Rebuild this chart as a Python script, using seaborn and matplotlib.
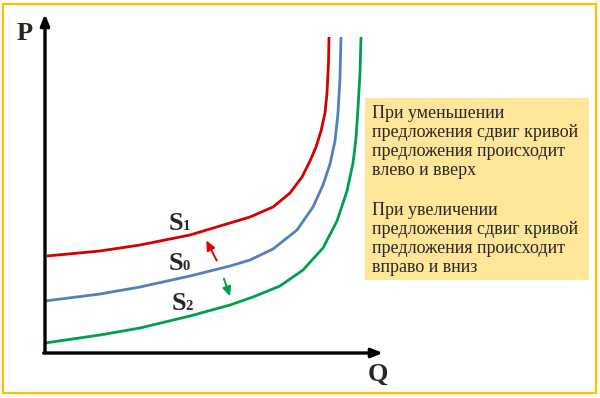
import matplotlib
matplotlib.use("Agg")
import matplotlib.pyplot as plt
import seaborn as sns
import pandas as pd
from matplotlib.patches import Rectangle, FancyArrowPatch

# Curves (Q, P)
s1_q = [2, 55, 95, 145, 185, 205, 228, 245, 257, 265, 271, 276, 280, 282, 283.5, 284]
s1_p = [97, 102, 108, 118, 130, 136, 146, 160, 176, 192, 206, 222, 240, 260, 290, 316]
s0_q = [0, 55, 95, 145, 185, 205, 228, 252, 268, 278, 285, 290, 293, 295, 296]
s0_p = [52, 59, 66, 77, 87, 93, 104, 123, 146, 168, 189, 212, 240, 275, 316]
s2_q = [0, 55, 95, 145, 185, 208, 235, 258, 278, 292, 302, 308, 311, 313, 315, 316]
s2_p = [10, 18, 25, 37, 48, 56, 67, 83, 105, 132, 162, 190, 215, 245, 280, 316]

text_up = "При уменьшении\nпредложения сдвиг кривой\nпредложения происходит\nвлево и вверх"
text_down = "При увеличении\nпредложения сдвиг кривой\nпредложения происходит\nвправо и вниз"

sns.set_theme(style="white")
plt.rcParams['font.family'] = ['Liberation Serif', 'DejaVu Serif']

W, H = 600, 398
fig = plt.figure(figsize=(6.0, 3.98), dpi=100)
fig.patch.set_facecolor("white")

# axes: origin at pixel (45, 353), extends to (383, 14)
x0, y0, x1, y1 = 45, 353, 383, 14
ax = fig.add_axes([x0 / W, (H - y0) / H, (x1 - x0) / W, (y0 - y1) / H])
ax.set_xlim(0, x1 - x0)
ax.set_ylim(0, y0 - y1)
ax.axis("off")

df = pd.concat([
    pd.DataFrame({"Q": s1_q, "P": s1_p, "curve": "S1"}),
    pd.DataFrame({"Q": s0_q, "P": s0_p, "curve": "S0"}),
    pd.DataFrame({"Q": s2_q, "P": s2_p, "curve": "S2"}),
])
palette = {"S1": "#D40000", "S0": "#4F81BD", "S2": "#00A04A"}
sns.lineplot(data=df, x="Q", y="P", hue="curve", palette=palette, sort=False,
             estimator=None, linewidth=2.0, legend=False, ax=ax)
for ln in ax.get_lines():
    ln.set_solid_joinstyle("round")
    ln.set_solid_capstyle("butt")

# axis arrows
arrow_kw = dict(arrowstyle="-|>,head_length=0.55,head_width=0.22", color="black", lw=2.4,
                shrinkA=0, shrinkB=0)
ax.annotate("", xy=(0, 1), xytext=(0, 0), xycoords="axes fraction",
            arrowprops=arrow_kw, annotation_clip=False)
ax.annotate("", xy=(1, 0), xytext=(-0.004, 0), xycoords="axes fraction",
            arrowprops=arrow_kw, annotation_clip=False)

def px(x, y):
    return (x / W, 1 - y / H)

fig.text(*px(25, 40), "P", fontsize=19, fontweight="bold", ha="center", va="baseline")
fig.text(*px(378, 381), "Q", fontsize=19, fontweight="bold", ha="center", va="baseline")

# curve labels
for xs, yb, sub in [(169, 230, "1"), (169, 270, "0"), (172, 310, "2")]:
    fig.text(*px(xs, yb), "S", fontsize=19, fontweight="bold", ha="left", va="baseline")
    fig.text(*px(xs + 13.5, yb), sub, fontsize=10.5, fontweight="bold", ha="left", va="baseline")

# shift arrows
fig.patches.append(FancyArrowPatch(
    px(218, 263), px(205, 238), transform=fig.transFigure,
    arrowstyle="-|>,head_length=3.5,head_width=1.6", color="#E00000", lw=1.4, mutation_scale=1.6))
fig.patches.append(FancyArrowPatch(
    px(223, 276), px(231, 299), transform=fig.transFigure,
    arrowstyle="-|>,head_length=3.5,head_width=1.6", color="#00A04A", lw=1.4, mutation_scale=1.6))

# text box
fig.patches.append(Rectangle(px(365, 280), (589 - 365) / W, (280 - 98) / H,
                             transform=fig.transFigure, facecolor="#FFE699", edgecolor="none"))
# va='baseline' anchors the last line's baseline
fig.text(*px(372, 175), text_up, fontsize=13, ha="left", va="baseline", linespacing=1.15)
fig.text(*px(372, 272), text_down, fontsize=13, ha="left", va="baseline", linespacing=1.15)

# outer border
fig.patches.append(Rectangle(px(3, 393), (596 - 3) / W, (393 - 4) / H,
                             transform=fig.transFigure, facecolor="none",
                             edgecolor="#FFC000", lw=1.6))

fig.savefig("out.png", dpi=100, facecolor="white")
